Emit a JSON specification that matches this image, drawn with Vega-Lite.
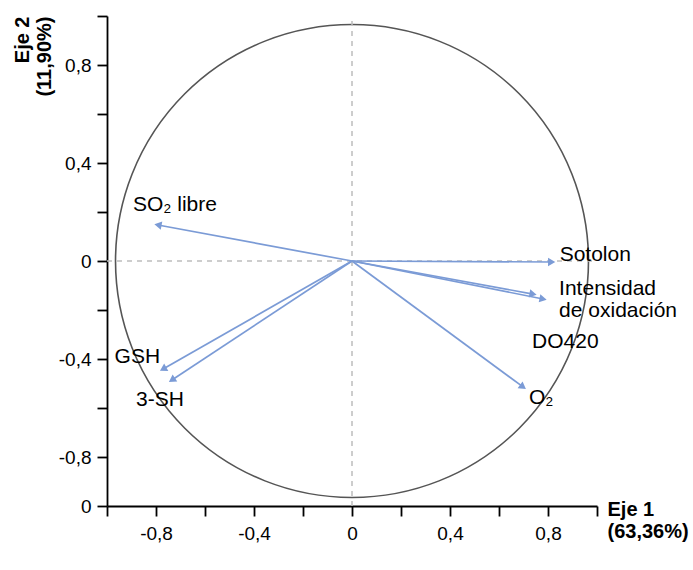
{
  "$schema": "https://vega.github.io/schema/vega-lite/v6.json",
  "width": 490,
  "height": 490,
  "autosize": "none",
  "padding": {"left": 107, "top": 16, "right": 96, "bottom": 64},
  "background": "white",
  "config": {
    "view": {"stroke": null},
    "font": "Liberation Sans",
    "axis": {
      "grid": false,
      "domainColor": "black",
      "domainWidth": 1.8,
      "tickColor": "black",
      "tickWidth": 1.8,
      "tickSize": 10,
      "labelFont": "Liberation Sans",
      "labelFontSize": 19,
      "labelColor": "black",
      "titleFont": "Liberation Sans",
      "titleFontSize": 20,
      "titleFontWeight": "bold",
      "titleColor": "black",
      "titleLineHeight": 22
    }
  },
  "datasets": {
    "vectors": [
      {"name": "SO₂ libre", "x0": 0, "y0": 0, "x": -0.792, "y": 0.147},
      {"name": "Sotolon", "x0": 0, "y0": 0, "x": 0.815, "y": -0.004},
      {"name": "Intensidad de oxidación", "x0": 0, "y0": 0, "x": 0.78, "y": -0.155},
      {"name": "DO420", "x0": 0, "y0": 0, "x": 0.739, "y": -0.135},
      {"name": "O₂", "x0": 0, "y0": 0, "x": 0.698, "y": -0.514},
      {"name": "GSH", "x0": 0, "y0": 0, "x": -0.771, "y": -0.441},
      {"name": "3-SH", "x0": 0, "y0": 0, "x": -0.735, "y": -0.486}
    ],
    "refs": [
      {"x0": 0, "y0": -1, "x": 0, "y": 1},
      {"x0": -1, "y0": 0, "x": 1, "y": 0}
    ],
    "center": [{"x": 0, "y": 0}]
  },
  "data": {"name": "vectors"},
  "layer": [
    {
      "data": {"name": "center"},
      "mark": {"type": "point", "shape": "circle", "filled": false, "stroke": "#555555", "strokeWidth": 1.6, "opacity": 1, "size": 223700},
      "encoding": {
        "x": {
          "field": "x",
          "type": "quantitative",
          "scale": {"domain": [-1, 1], "nice": false, "zero": false},
          "axis": {
            "values": [-1, -0.8, -0.6, -0.4, -0.2, 0, 0.2, 0.4, 0.6, 0.8, 1],
            "labelExpr": "datum.value == -0.8 ? '-0,8' : datum.value == -0.4 ? '-0,4' : datum.value == 0 ? '0' : datum.value == 0.4 ? '0,4' : datum.value == 0.8 ? '0,8' : ''",
            "labelPadding": 8,
            "title": ["Eje 1", "(63,36%)"],
            "titleX": 500,
            "titleY": -7,
            "titleAlign": "left",
            "titleBaseline": "top"
          }
        },
        "y": {
          "field": "y",
          "type": "quantitative",
          "scale": {"domain": [-1, 1], "nice": false, "zero": false},
          "axis": {
            "values": [-1, -0.8, -0.6, -0.4, -0.2, 0, 0.2, 0.4, 0.6, 0.8, 1],
            "labelExpr": "datum.value == -1 ? '0' : datum.value == -0.8 ? '-0,8' : datum.value == -0.4 ? '-0,4' : datum.value == 0 ? '0' : datum.value == 0.4 ? '0,4' : datum.value == 0.8 ? '0,8' : ''",
            "labelPadding": 6,
            "title": ["Eje 2", "(11,90%)"],
            "titleAngle": -90,
            "titleX": -95,
            "titleY": 0,
            "titleAlign": "right",
            "titleBaseline": "top"
          }
        }
      }
    },
    {
      "data": {"name": "refs"},
      "mark": {"type": "rule", "color": "#bdbdbd", "strokeWidth": 1.5, "strokeDash": [5, 5]},
      "encoding": {
        "x": {"field": "x0", "type": "quantitative"},
        "y": {"field": "y0", "type": "quantitative"},
        "x2": {"field": "x"},
        "y2": {"field": "y"}
      }
    },
    {
      "mark": {"type": "rule", "color": "#7b9bd6", "strokeWidth": 1.7},
      "encoding": {
        "x": {"field": "x0", "type": "quantitative"},
        "y": {"field": "y0", "type": "quantitative"},
        "x2": {"field": "x"},
        "y2": {"field": "y"}
      }
    },
    {
      "transform": [{"calculate": "atan2(-datum.y, datum.x) * 180 / PI", "as": "ang"}],
      "mark": {"type": "point", "shape": "triangle-right", "filled": true, "color": "#7b9bd6", "opacity": 1, "size": 70},
      "encoding": {
        "x": {"field": "x", "type": "quantitative"},
        "y": {"field": "y", "type": "quantitative"},
        "angle": {"field": "ang", "type": "quantitative", "scale": null}
      }
    },
    {
      "transform": [{"filter": "datum.name == 'SO₂ libre'"}],
      "mark": {"type": "text", "align": "left", "baseline": "middle", "dx": -25, "dy": -20, "fontSize": 21, "font": "Liberation Sans", "color": "black"},
      "encoding": {"x": {"field": "x", "type": "quantitative"}, "y": {"field": "y", "type": "quantitative"}, "text": {"field": "name"}}
    },
    {
      "transform": [{"filter": "datum.name == 'Sotolon'"}],
      "mark": {"type": "text", "align": "left", "baseline": "middle", "dx": 8, "dy": -7, "fontSize": 21, "font": "Liberation Sans", "color": "black"},
      "encoding": {"x": {"field": "x", "type": "quantitative"}, "y": {"field": "y", "type": "quantitative"}, "text": {"field": "name"}}
    },
    {
      "transform": [{"filter": "datum.name == 'Intensidad de oxidación'"}],
      "mark": {"type": "text", "align": "left", "baseline": "alphabetic", "dx": 16, "dy": -4, "lineHeight": 22, "fontSize": 21, "font": "Liberation Sans", "color": "black", "text": ["Intensidad", "de oxidación"]},
      "encoding": {"x": {"field": "x", "type": "quantitative"}, "y": {"field": "y", "type": "quantitative"}}
    },
    {
      "transform": [{"filter": "datum.name == 'DO420'"}],
      "mark": {"type": "text", "align": "left", "baseline": "middle", "dx": -1, "dy": 48, "fontSize": 21, "font": "Liberation Sans", "color": "black"},
      "encoding": {"x": {"field": "x", "type": "quantitative"}, "y": {"field": "y", "type": "quantitative"}, "text": {"field": "name"}}
    },
    {
      "transform": [{"filter": "datum.name == 'O₂'"}],
      "mark": {"type": "text", "align": "left", "baseline": "middle", "dx": 6, "dy": 11, "fontSize": 21, "font": "Liberation Sans", "color": "black"},
      "encoding": {"x": {"field": "x", "type": "quantitative"}, "y": {"field": "y", "type": "quantitative"}, "text": {"field": "name"}}
    },
    {
      "transform": [{"filter": "datum.name == 'GSH'"}],
      "mark": {"type": "text", "align": "right", "baseline": "middle", "dx": -3, "dy": -12, "fontSize": 21, "font": "Liberation Sans", "color": "black"},
      "encoding": {"x": {"field": "x", "type": "quantitative"}, "y": {"field": "y", "type": "quantitative"}, "text": {"field": "name"}}
    },
    {
      "transform": [{"filter": "datum.name == '3-SH'"}],
      "mark": {"type": "text", "align": "center", "baseline": "middle", "dx": -12, "dy": 20, "fontSize": 21, "font": "Liberation Sans", "color": "black"},
      "encoding": {"x": {"field": "x", "type": "quantitative"}, "y": {"field": "y", "type": "quantitative"}, "text": {"field": "name"}}
    }
  ]
}
